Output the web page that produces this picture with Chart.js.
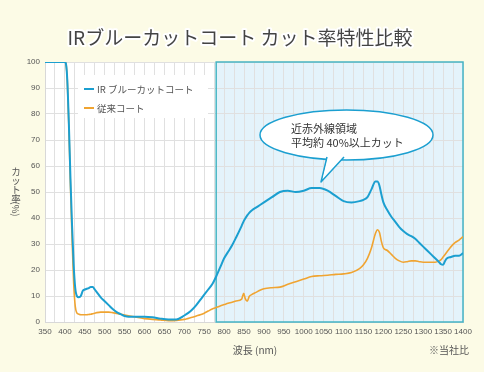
<!DOCTYPE html>
<html>
<head>
<meta charset="utf-8">
<script src="https://cdn.jsdelivr.net/npm/chart.js@4.4.0/dist/chart.umd.min.js"></script>
<style>
  body { margin: 0; background: #fcfbe6; }
  #wrap { width: 484px; height: 372px; }
</style>
</head>
<body>
<div id="wrap"><canvas id="lineChart" width="484" height="372"></canvas></div>
<script>
// wavelength (nm)
var wavelengths = [350, 375, 400, 403, 406, 410, 414, 418, 422, 426, 430, 435, 440, 445, 450, 455, 460, 465, 470, 475, 480, 490, 500, 510, 520, 530, 540, 550, 560, 580, 600, 620, 640, 660, 680, 700, 710, 720, 730, 740, 750, 760, 770, 780, 790, 800, 810, 820, 830, 844, 849, 853, 858, 863, 870, 880, 890, 900, 920, 940, 960, 980, 1000, 1020, 1040, 1060, 1080, 1100, 1120, 1140, 1150, 1160, 1170, 1180, 1185, 1190, 1195, 1200, 1210, 1220, 1230, 1240, 1250, 1260, 1270, 1280, 1290, 1300, 1310, 1320, 1330, 1340, 1345, 1350, 1355, 1360, 1370, 1380, 1390, 1400]

// IR blue cut coat (%)
var irBlueCut = [100, 100, 100, 99, 93, 76, 55, 37, 22, 13, 10, 9.5, 10, 12, 12.5, 12.8, 13, 13.5, 13.5, 12.5, 11.5, 9.5, 8, 6.5, 5, 3.8, 3, 2.3, 2, 2, 2, 1.8, 1.3, 1, 1, 2.5, 3.5, 4.8, 6.5, 8.5, 10.5, 12.5, 14.5, 17.5, 21, 24.5, 27, 29.5, 32.5, 37, 38.7, 39.8, 41, 42, 43, 44, 45, 46, 48, 50, 50.5, 50, 50.5, 51.5, 51.5, 50.5, 48.5, 46.5, 46, 46.5, 47, 48, 51, 54, 54, 52.5, 49, 46, 43, 40.5, 38.5, 36.5, 35, 33.8, 33, 32, 30.5, 29, 27.5, 26, 24.5, 23, 22.2, 22, 23.5, 24.5, 25, 25.5, 25.5, 26.5]

// conventional coat (%)
var conventional = [100, 100, 100, 99, 93, 75, 52, 32, 15, 6, 3.5, 3, 2.8, 2.8, 2.8, 2.8, 2.9, 3, 3.2, 3.4, 3.6, 3.8, 3.8, 3.8, 3.6, 3.3, 3, 2.7, 2.4, 1.8, 1.3, 1, 0.8, 0.5, 0.6, 1, 1.4, 1.8, 2.3, 2.8, 3.4, 4.2, 5, 5.6, 6.2, 6.7, 7.2, 7.6, 8.1, 8.8, 11, 9, 8, 9.8, 10.6, 11.4, 12.2, 12.8, 13.2, 13.4, 14.5, 15.5, 16.5, 17.5, 17.8, 18, 18.3, 18.5, 19, 20.5, 22, 24.5, 28.5, 34, 35.5, 34.5, 31, 28.5, 27.5, 26, 24.5, 23.5, 23, 23.2, 23.5, 23.5, 23.2, 23, 23, 23, 23, 23.5, 24, 25, 26, 27, 29, 30.5, 31.5, 32.8]

var seriesNames = ["IR ブルーカットコート", "従来コート"]
var seriesColors = ["#1b9fd0", "#f0a431"]

var jpFont = '"Noto Sans CJK JP", "Noto Sans", sans-serif'

function toPoints(values) {
    return wavelengths.map(function (w, i) { return { x: w, y: values[i] } })
}

// background, shaded NIR band, legend, titles, bubble
var decorPlugin = {
    id: 'decor',
    beforeDraw: function (chart) {
        var ctx = chart.ctx
        var area = chart.chartArea
        var xs = chart.scales.x
        ctx.save()
        ctx.fillStyle = '#fcfbe6'
        ctx.fillRect(0, 0, chart.width, chart.height)
        ctx.fillStyle = '#ffffff'
        ctx.fillRect(area.left, area.top, area.right - area.left, area.bottom - area.top)
        var x0 = xs.getPixelForValue(780)
        ctx.fillStyle = '#e4f3fb'
        ctx.fillRect(x0, area.top, area.right - x0, area.bottom - area.top)
        ctx.restore()
    },
    beforeDatasetsDraw: function (chart) {
        var ctx = chart.ctx
        var area = chart.chartArea
        var xs = chart.scales.x
        var x0 = xs.getPixelForValue(780)
        ctx.save()
        ctx.strokeStyle = '#45b4c4'
        ctx.lineWidth = 1.5
        ctx.strokeRect(x0, area.top, area.right - x0, area.bottom - area.top)

        // legend
        ctx.fillStyle = '#ffffff'
        ctx.fillRect(78, 75, 130, 43)
        ctx.font = '9.5px ' + jpFont
        ctx.textBaseline = 'middle'
        for (var i = 0; i < seriesNames.length; i++) {
            var ly = 89 + i * 19
            ctx.strokeStyle = seriesColors[i]
            ctx.lineWidth = 2
            ctx.beginPath()
            ctx.moveTo(84, ly)
            ctx.lineTo(94, ly)
            ctx.stroke()
            ctx.fillStyle = '#555555'
            ctx.fillText(seriesNames[i], 97, ly)
        }
        ctx.restore()
    },
    afterDraw: function (chart) {
        var ctx = chart.ctx
        ctx.save()
        // main title
        ctx.font = '19px ' + jpFont
        ctx.textAlign = 'center'
        ctx.textBaseline = 'middle'
        ctx.lineJoin = 'round'
        ctx.strokeStyle = '#ffffff'
        ctx.lineWidth = 4
        var title = 'IRブルーカットコート カット率特性比較'
        ctx.strokeText(title, 240, 38)
        ctx.fillStyle = '#444444'
        ctx.fillText(title, 240, 38)

        // axis titles
        ctx.font = '10px ' + jpFont
        ctx.fillStyle = '#555555'
        ctx.fillText('波長 (nm)', 255, 350)
        ctx.fillText('※当社比', 449, 350)

        // vertical y title
        ctx.font = '9.5px ' + jpFont
        var chars = ['カ', 'ッ', 'ト', '率']
        var cy = [171, 180, 189, 198]
        for (var i = 0; i < chars.length; i++) {
            ctx.fillText(chars[i], 16, cy[i])
        }
        ctx.save()
        ctx.translate(16, 209)
        ctx.rotate(Math.PI / 2)
        ctx.fillText('(%)', 0, 0)
        ctx.restore()

        // speech bubble
        var bx = 346.5, by = 135, rx = 86.5, ry = 25
        ctx.strokeStyle = '#1b9fd0'
        ctx.lineWidth = 1.5
        ctx.fillStyle = '#ffffff'
        ctx.beginPath()
        ctx.ellipse(bx, by, rx, ry, 0, 0, Math.PI * 2)
        ctx.fill()
        ctx.stroke()
        ctx.beginPath()
        ctx.moveTo(327, 157)
        ctx.lineTo(321, 182)
        ctx.lineTo(344, 157)
        ctx.fill()
        ctx.stroke()
        // cover the ellipse border inside the tail
        ctx.beginPath()
        ctx.moveTo(328.5, 156)
        ctx.lineTo(323, 178)
        ctx.lineTo(341.5, 156)
        ctx.closePath()
        ctx.fill()

        ctx.font = '11px ' + jpFont
        ctx.fillStyle = '#333333'
        ctx.textAlign = 'left'
        ctx.fillText('近赤外線領域', 291, 129)
        ctx.fillText('平均約 40%以上カット', 291, 143)
        ctx.restore()
    }
}

var canvas = document.getElementById('lineChart')
var myChart = new Chart(canvas, {
    type: 'line',
    data: {
        datasets: [{
            label: seriesNames[0],
            data: toPoints(irBlueCut),
            borderColor: seriesColors[0],
            borderWidth: 2,
            pointRadius: 0,
            tension: 0.4,
            cubicInterpolationMode: 'monotone'
        }, {
            label: seriesNames[1],
            data: toPoints(conventional),
            borderColor: seriesColors[1],
            borderWidth: 1.6,
            pointRadius: 0,
            tension: 0.4,
            cubicInterpolationMode: 'monotone'
        }]
    },
    options: {
        responsive: false,
        animation: false,
        layout: { padding: { left: 0, right: 21, top: 62, bottom: 0 } },
        plugins: {
            legend: { display: false },
            tooltip: { enabled: false }
        },
        scales: {
            x: {
                type: 'linear',
                min: 350,
                max: 1400,
                afterFit: function (scale) { scale.height = 50 },
                grid: { color: '#e0e0e0', lineWidth: 1, drawTicks: false },
                border: { color: '#d8d8d8' },
                ticks: {
                    stepSize: 25,
                    autoSkip: false,
                    maxRotation: 0,
                    padding: 5,
                    color: '#555555',
                    font: { size: 8, family: '"Liberation Sans", sans-serif' },
                    callback: function (v) { return v % 50 === 0 ? v : '' }
                }
            },
            y: {
                min: 0,
                max: 100,
                afterFit: function (scale) { scale.width = 45 },
                grid: { color: '#e0e0e0', lineWidth: 1, drawTicks: false },
                border: { color: '#d8d8d8' },
                ticks: {
                    stepSize: 10,
                    padding: 5,
                    color: '#555555',
                    font: { size: 8, family: '"Liberation Sans", sans-serif' }
                }
            }
        }
    },
    plugins: [decorPlugin]
});
</script>
</body>
</html>
